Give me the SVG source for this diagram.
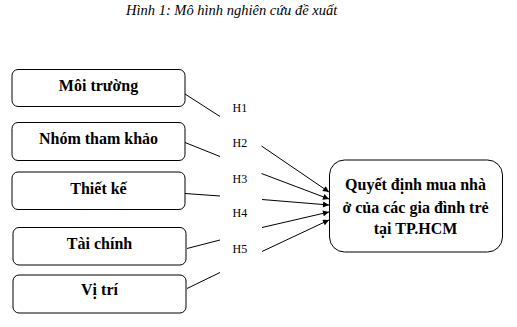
<svg xmlns="http://www.w3.org/2000/svg" width="517" height="327" viewBox="0 0 517 327">
<style>
.box{fill:#fff;stroke:#000;stroke-width:1}
.lbl{font-family:'Liberation Serif','DejaVu Serif',serif;font-weight:bold;font-size:16px;text-anchor:middle;fill:#000}
.h{font-family:'Liberation Serif','DejaVu Serif',serif;font-size:12px;fill:#000}
.title{font-family:'Liberation Serif','DejaVu Serif',serif;font-style:italic;font-size:14.5px;fill:#000}
.ln{stroke:#000;stroke-width:1;fill:none}
.ar{stroke:#000;stroke-width:1;fill:none;marker-end:url(#ah)}
</style>
<defs>
<marker id="ah" viewBox="0 0 10 10" refX="10" refY="5" markerWidth="7" markerHeight="6" markerUnits="userSpaceOnUse" orient="auto">
<path d="M0,0 L10,5 L0,10 z" fill="#000"/>
</marker>
</defs>
<rect width="517" height="327" fill="#fff"/>
<text class="title" x="126" y="15">Hình 1: Mô hình nghiên cứu đề xuất</text>
<g id="n1"><rect class="box" x="12" y="69.5" width="173" height="37" rx="6"/><text class="lbl" x="98.5" y="91">Môi trường</text></g>
<g id="n2"><rect class="box" x="12" y="122.5" width="173" height="38" rx="6"/><text class="lbl" x="98.5" y="144">Nhóm tham khảo</text></g>
<g id="n3"><rect class="box" x="12" y="172" width="173" height="37.5" rx="6"/><text class="lbl" x="98.5" y="193.5">Thiết kế</text></g>
<g id="n4"><rect class="box" x="13" y="227.5" width="173" height="37.5" rx="6"/><text class="lbl" x="99.5" y="249">Tài chính</text></g>
<g id="n5"><rect class="box" x="13" y="275" width="173" height="38" rx="6"/><text class="lbl" x="99.5" y="294.5">Vị trí</text></g>
<g id="target"><rect class="box" x="329.5" y="160" width="173" height="92" rx="15"/>
<text class="lbl" x="415.5" y="189.5">Quyết định mua nhà</text>
<text class="lbl" x="415.5" y="213">ở của các gia đình trẻ</text>
<text class="lbl" x="415.5" y="234">tại TP.HCM</text></g>
<g id="labels">
<text class="h" x="232.5" y="111.5">H1</text>
<text class="h" x="232.5" y="147">H2</text>
<text class="h" x="232.5" y="182.5">H3</text>
<text class="h" x="232.5" y="217">H4</text>
<text class="h" x="232.5" y="252.5">H5</text>
</g>
<g id="connectors">
<line class="ln" x1="185" y1="94" x2="220" y2="116.5"/>
<line class="ln" x1="185" y1="142.5" x2="220" y2="156.5"/>
<line class="ln" x1="185" y1="193.5" x2="220" y2="196"/>
<line class="ln" x1="187" y1="248.5" x2="220" y2="240"/>
<line class="ln" x1="187" y1="288.5" x2="220" y2="272.5"/>
<line class="ar" x1="261.5" y1="146" x2="329" y2="192"/>
<line class="ar" x1="261.5" y1="173.5" x2="329" y2="199"/>
<line class="ar" x1="262" y1="199.5" x2="329" y2="205"/>
<line class="ar" x1="262" y1="227.5" x2="329" y2="212"/>
<line class="ar" x1="262" y1="251.5" x2="329" y2="220"/>
</g>
</svg>
